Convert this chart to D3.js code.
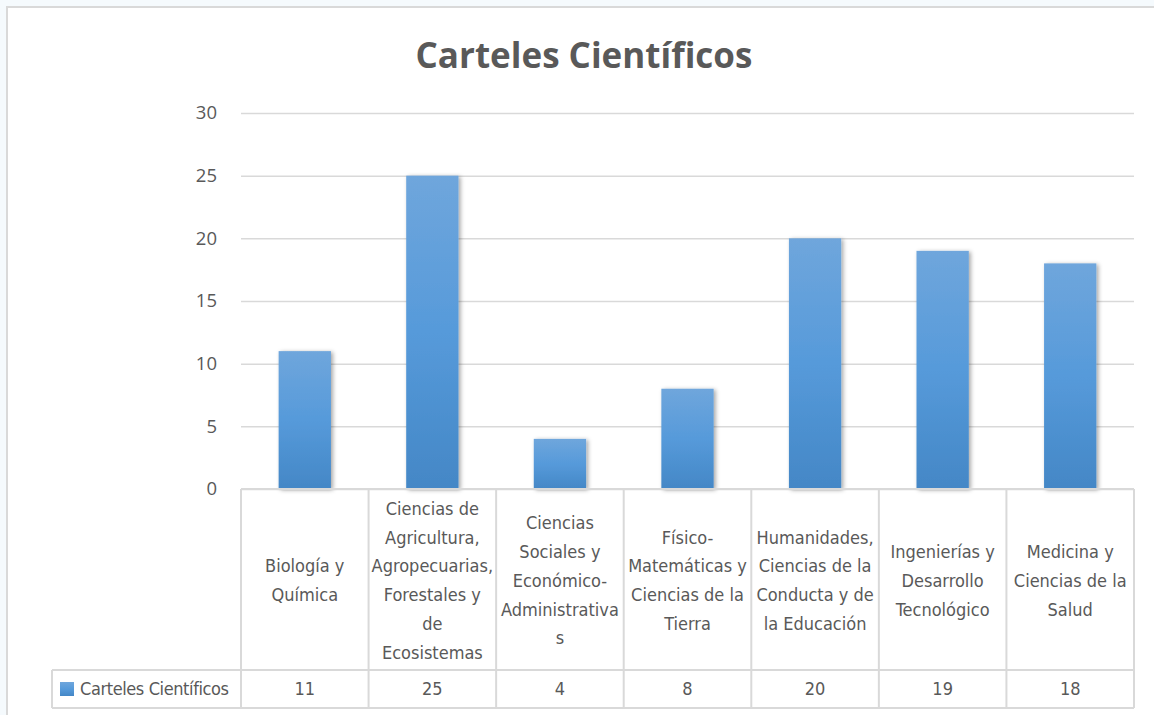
<!DOCTYPE html>
<html>
<head>
<meta charset="utf-8">
<script src="https://cdn.jsdelivr.net/npm/d3@7"></script>
<style>
  body { margin: 0; background: #f5fafd; }
  svg { display: block; }
  .tick text { fill: #595959; }
  .cell text { fill: #595959; }
</style>
</head>
<body>
<svg width="1154" height="715"></svg>
<script>
// data
var categories = [
  "Biología y Química",
  "Ciencias de Agricultura, Agropecuarias, Forestales y de Ecosistemas",
  "Ciencias Sociales y Económico-Administrativas",
  "Físico-Matemáticas y Ciencias de la Tierra",
  "Humanidades, Ciencias de la Conducta y de la Educación",
  "Ingenierías y Desarrollo Tecnológico",
  "Medicina y Ciencias de la Salud"
];
// wrapped tick labels as they appear in the table
var tickLabels = [
  ["Biología y", "Química"],
  ["Ciencias de", "Agricultura,", "Agropecuarias,", "Forestales y", "de", "Ecosistemas"],
  ["Ciencias", "Sociales y", "Económico-", "Administrativa", "s"],
  ["Físico-", "Matemáticas y", "Ciencias de la", "Tierra"],
  ["Humanidades,", "Ciencias de la", "Conducta y de", "la Educación"],
  ["Ingenierías y", "Desarrollo", "Tecnológico"],
  ["Medicina y", "Ciencias de la", "Salud"]
];
var values = [11, 25, 4, 8, 20, 19, 18];
var seriesName = "Carteles Científicos";
var yTicks = [0, 5, 10, 15, 20, 25, 30];

var svg = d3.select("svg");
var gray = "#595959", line = "#d9d9d9";
var condensed = "'Liberation Sans Narrow', 'DejaVu Sans Condensed', sans-serif";

var defs = svg.append("defs");
var grad = defs.append("linearGradient")
    .attr("id", "barGrad").attr("x1", 0).attr("y1", 0).attr("x2", 0).attr("y2", 1);
grad.append("stop").attr("offset", "0%").attr("stop-color", "#6fa6dc");
grad.append("stop").attr("offset", "50%").attr("stop-color", "#569ada");
grad.append("stop").attr("offset", "100%").attr("stop-color", "#4487c6");
var shadow = defs.append("filter").attr("id", "shadow")
    .attr("x", "-20%").attr("y", "-10%").attr("width", "150%").attr("height", "130%");
shadow.append("feDropShadow").attr("dx", 2).attr("dy", 1).attr("stdDeviation", 2)
    .attr("flood-color", "#000").attr("flood-opacity", 0.35);

// chart frame
svg.append("rect")
    .attr("x", 7).attr("y", 7).attr("width", 1160).attr("height", 720)
    .attr("fill", "#fff").attr("stroke", line).attr("stroke-width", 2);

var x = d3.scaleBand().domain(categories).range([241, 1134]);
var y = d3.scaleLinear().domain([0, 30]).range([489, 113]);

// title
svg.append("text")
    .attr("x", 584).attr("y", 68)
    .attr("text-anchor", "middle")
    .attr("font-family", "'Open Sans', sans-serif")
    .attr("font-weight", "bold")
    .attr("font-size", 35)
    .attr("fill", gray)
    .text(seriesName);

// y axis with gridlines
var yAxis = svg.append("g")
    .attr("transform", "translate(241,0)")
    .call(d3.axisLeft(y).tickValues(yTicks).tickSize(-893).tickPadding(24))
    .attr("font-family", "'Open Sans', sans-serif")
    .attr("font-size", 18.5);
yAxis.select(".domain").remove();
yAxis.selectAll(".tick line").attr("stroke", line).attr("stroke-width", 1.5);
yAxis.selectAll(".tick text").attr("fill", gray);

// bars
svg.append("g").selectAll("rect")
  .data(values)
  .enter().append("rect")
    .attr("x", function(d, i) { return x(categories[i]) + x.bandwidth() * 0.295; })
    .attr("width", x.bandwidth() * 0.41)
    .attr("y", function(d) { return y(d); })
    .attr("height", function(d) { return y(0) - y(d); })
    .attr("fill", "url(#barGrad)")
    .attr("filter", "url(#shadow)");

// data table
var headTop = 489, headBot = 670, valBot = 708;
var table = svg.append("g").attr("font-family", condensed).attr("font-size", 18);

table.append("g").selectAll("g")
  .data(categories)
  .enter().append("g")
    .attr("class", "cell")
    .each(function(c, i) {
      var g = d3.select(this), x0 = x(c), w = x.bandwidth();
      var lines = tickLabels[i], lh = 28.7;
      var cy = (headTop + headBot) / 2 + 1;
      g.append("text")
          .attr("text-anchor", "middle")
          .attr("font-stretch", "condensed")
          .selectAll("tspan")
          .data(lines)
          .enter().append("tspan")
            .attr("x", x0 + w / 2)
            .attr("y", function(d, k) { return cy + (k - (lines.length - 1) / 2) * lh; })
            .attr("dy", "0.35em")
            .text(function(d) { return d; });
      g.append("text")
          .attr("x", x0 + w / 2)
          .attr("y", (headBot + valBot) / 2)
          .attr("dy", "0.35em")
          .attr("text-anchor", "middle")
          .text(values[i]);
    });

// table grid lines
var grid = table.append("g").attr("stroke", line).attr("stroke-width", 2).attr("fill", "none");
categories.forEach(function(c) {
  grid.append("line").attr("x1", x(c)).attr("x2", x(c)).attr("y1", headTop).attr("y2", valBot);
});
grid.append("line").attr("x1", 1134).attr("x2", 1134).attr("y1", headTop).attr("y2", valBot);
grid.append("line").attr("x1", 52).attr("x2", 52).attr("y1", headBot).attr("y2", valBot);
grid.append("line").attr("x1", 241).attr("x2", 1134).attr("y1", headTop).attr("y2", headTop);
grid.append("line").attr("x1", 52).attr("x2", 1134).attr("y1", headBot).attr("y2", headBot);
grid.append("line").attr("x1", 52).attr("x2", 1134).attr("y1", valBot).attr("y2", valBot);

// legend key in the table
table.append("rect")
    .attr("x", 60).attr("y", 682).attr("width", 14).attr("height", 14)
    .attr("fill", "url(#barGrad)");
table.append("text")
    .attr("x", 80).attr("y", (headBot + valBot) / 2)
    .attr("dy", "0.35em")
    .attr("fill", gray)
    .attr("letter-spacing", -0.4)
    .text(seriesName);
</script>
</body>
</html>
